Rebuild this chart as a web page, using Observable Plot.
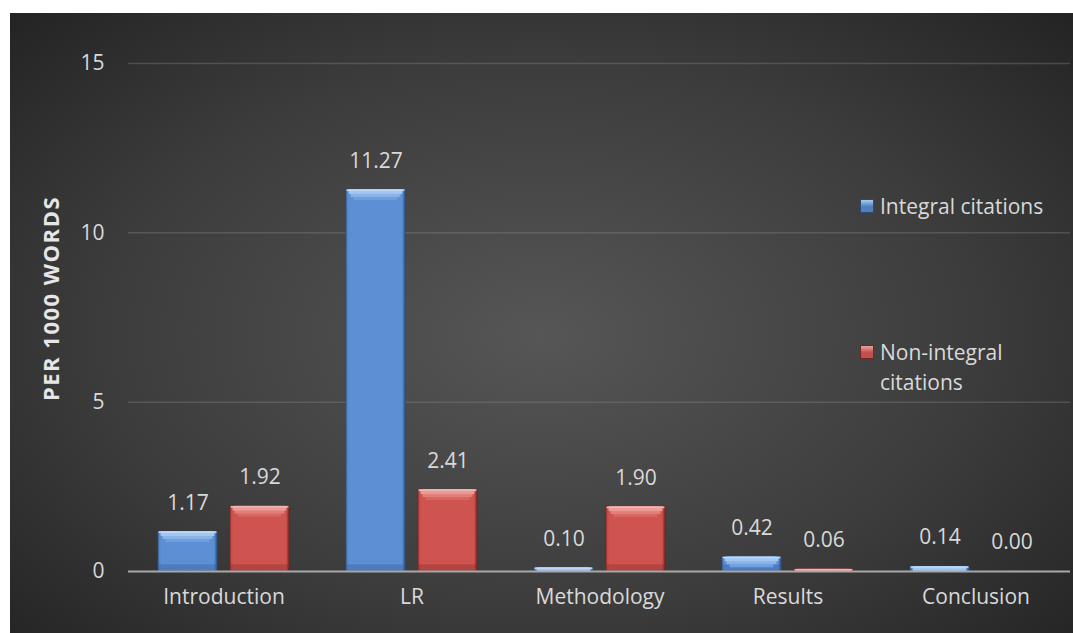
<!DOCTYPE html>
<html>
<head>
<meta charset="utf-8">
<script src="https://cdn.jsdelivr.net/npm/d3@7"></script>
<script src="https://cdn.jsdelivr.net/npm/@observablehq/plot@0.6"></script>
<style>
  html, body { margin: 0; padding: 0; background: #ffffff; }
  #wrap {
    position: absolute; left: 10px; top: 13px; width: 1063px; height: 620px;
    background: radial-gradient(ellipse 75% 80% at 50% 52%, #565656 0%, #3c3c3c 55%, #1f1f1f 100%);
    font-family: "Open Sans", sans-serif; color: #d9d9d9;
  }
  .lg { position: absolute; font-size: 21px; line-height: 30px; color: #d9d9d9; }
  .sw { position: absolute; width: 14px; height: 14px; box-sizing: border-box; }
</style>
</head>
<body>
<div id="wrap"></div>
<script>
const categories = ["Introduction", "LR", "Methodology", "Results", "Conclusion"];
const integral = [1.17, 11.27, 0.10, 0.42, 0.14];
const nonIntegral = [1.92, 2.41, 1.90, 0.06, 0.00];
const yTicks = [0, 5, 10, 15];
const seriesNames = ["Integral citations", "Non-integral citations"];
const yLabel = "PER 1000 WORDS";

const blueRows = categories.map((c, i) => ({cat: c, v: integral[i]}));
const redRows = categories.map((c, i) => ({cat: c, v: nonIntegral[i]}));

const half = 72;   // inset to split each band into two bars
const off = 36;    // label offset to bar centre

function layer(n, dy, dx, color) {
  return `
      <feOffset in="SourceAlpha" dy="${dy}" result="d${n}"/>
      <feComposite in="SourceAlpha" in2="d${n}" operator="out" result="t${n}"/>
      <feOffset in="SourceAlpha" dx="${dx}" result="r${n}"/>
      <feOffset in="SourceAlpha" dx="${-dx}" result="l${n}"/>
      <feComposite in="t${n}" in2="r${n}" operator="in" result="a${n}"/>
      <feComposite in="a${n}" in2="l${n}" operator="in" result="m${n}"/>
      <feFlood flood-color="${color}" result="f${n}"/>
      <feComposite in="f${n}" in2="m${n}" operator="in" result="p${n}"/>`;
}

function bevel(id, c1, c2, c3, c4, dark) {
  return `
    <filter id="${id}" x="-5%" y="-5%" width="110%" height="110%" color-interpolation-filters="sRGB">
      ${layer(4, 11, 8, c4)}
      ${layer(3, 8, 5, c3)}
      ${layer(2, 5, 3, c2)}
      ${layer(1, 2, 1, c1)}
      <feOffset in="SourceAlpha" dy="-7" result="db"/>
      <feComposite in="SourceAlpha" in2="db" operator="out" result="tb"/>
      <feFlood flood-color="${dark}" flood-opacity="0.3" result="fb"/>
      <feComposite in="fb" in2="tb" operator="in" result="pb"/>
      <feOffset in="SourceAlpha" dx="-2" result="dr"/>
      <feComposite in="SourceAlpha" in2="dr" operator="out" result="tr"/>
      <feFlood flood-color="${dark}" flood-opacity="0.45" result="fr"/>
      <feComposite in="fr" in2="tr" operator="in" result="pr"/>
      <feMerge>
        <feMergeNode in="SourceGraphic"/>
        <feMergeNode in="pb"/>
        <feMergeNode in="pr"/>
        <feMergeNode in="p4"/>
        <feMergeNode in="p3"/>
        <feMergeNode in="p2"/>
        <feMergeNode in="p1"/>
      </feMerge>
    </filter>`;
}

const defs = () => {
  const ns = "http://www.w3.org/2000/svg";
  const d = document.createElementNS(ns, "defs");
  d.innerHTML = `
    <linearGradient id="gBlue" x1="0" x2="1" y1="0" y2="0">
      <stop offset="0" stop-color="#5080c2"/><stop offset="0.06" stop-color="#5c8fd4"/>
      <stop offset="0.94" stop-color="#5c8fd4"/><stop offset="1" stop-color="#4677b8"/>
    </linearGradient>
    <linearGradient id="gRed" x1="0" x2="1" y1="0" y2="0">
      <stop offset="0" stop-color="#bd4743"/><stop offset="0.06" stop-color="#cf5450"/>
      <stop offset="0.94" stop-color="#cf5450"/><stop offset="1" stop-color="#b0403c"/>
    </linearGradient>
    ${bevel("bvBlue", "#bcd8f7", "#a3c6f0", "#88b3e8", "#6f9fde", "#2a528c")}
    ${bevel("bvRed", "#f2b5b1", "#eb9a96", "#e17f7b", "#d8665f", "#6e2422")}`;
  return d;
};

const plot = Plot.plot({
  width: 1063,
  height: 620,
  marginLeft: 118,
  marginRight: 3,
  marginTop: 50,
  marginBottom: 62,
  style: {background: "none", color: "#d9d9d9", fontFamily: "Open Sans", fontSize: "21px"},
  x: {domain: categories, paddingInner: 0.305, paddingOuter: 0.1527, tickSize: 0, tickPadding: 18, label: null},
  y: {domain: [0, 15], ticks: yTicks, tickSize: 0, tickPadding: 24, label: null},
  marks: [
    defs,
    Plot.ruleY(yTicks.filter(t => t > 0), {stroke: "#8a8a8a", strokeOpacity: 0.35, strokeWidth: 1.5}),
    Plot.barY(blueRows, {x: "cat", y: "v", fill: "url(#gBlue)", stroke: "#2c4a74", strokeWidth: 0.8, insetRight: half}),
    Plot.barY(redRows, {x: "cat", y: "v", fill: "url(#gRed)", stroke: "#6e2624", strokeWidth: 0.8, insetLeft: half}),
    Plot.ruleY([0], {stroke: "#a8a8a8", strokeWidth: 2}),
    Plot.text(blueRows, {x: "cat", y: "v", text: d => d.v.toFixed(2), dx: -off, dy: -29, lineAnchor: "middle", fill: "#d9d9d9", fontSize: 21}),
    Plot.text(redRows, {x: "cat", y: "v", text: d => d.v.toFixed(2), dx: off, dy: -29, lineAnchor: "middle", fill: "#d9d9d9", fontSize: 21}),
    Plot.text([yLabel], {frameAnchor: "left", text: d => d, rotate: -90, textAnchor: "middle", dx: -77, dy: -19, fontWeight: "bold", fontSize: 22, fill: "#e6e6e6"})
  ]
});

const wrap = document.getElementById("wrap");
wrap.appendChild(plot);
plot.style.position = "absolute";
plot.style.left = "0px";
plot.style.top = "0px";
plot.querySelectorAll("text").forEach(t => {
  if (t.textContent === yLabel) t.setAttribute("letter-spacing", "1.5");
});
plot.querySelectorAll("rect").forEach(r => {
  const g = r.closest("g");
  const f = r.getAttribute("fill") || (g && g.getAttribute("fill"));
  if (f === "url(#gBlue)") r.setAttribute("filter", "url(#bvBlue)");
  if (f === "url(#gRed)") r.setAttribute("filter", "url(#bvRed)");
});

// legend (HTML)
const lg = [
  {color: "#4f81bd", hi: "#a9cbf2", border: "#2c4a74", top: 186, lines: [seriesNames[0]]},
  {color: "#c0504d", hi: "#eea19d", border: "#6e2624", top: 332, lines: ["Non-integral", "citations"]}
];
lg.forEach(it => {
  const sw = document.createElement("div");
  sw.className = "sw";
  sw.style.left = "850px";
  sw.style.top = it.top + "px";
  sw.style.background = `linear-gradient(180deg, ${it.hi} 0%, ${it.color} 55%)`;
  sw.style.border = `1px solid ${it.border}`;
  wrap.appendChild(sw);
  const tx = document.createElement("div");
  tx.className = "lg";
  tx.style.left = "870px";
  tx.style.top = (it.top - 8) + "px";
  tx.innerHTML = it.lines.join("<br>");
  wrap.appendChild(tx);
});
</script>
</body>
</html>
